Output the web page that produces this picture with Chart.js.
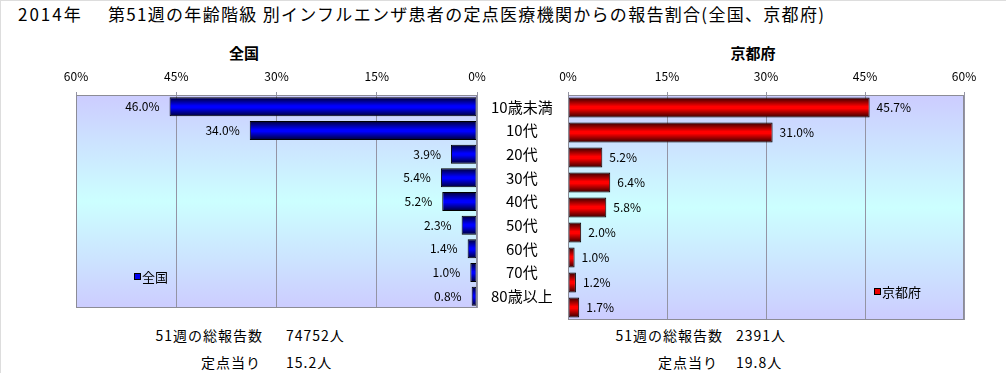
<!DOCTYPE html>
<html>
<head>
<meta charset="utf-8">
<script src="https://cdn.jsdelivr.net/npm/chart.js@4"></script>
<style>
  body { margin: 0; background: #fff; font-family: "Noto Sans CJK JP", sans-serif; }
  #wrap { position: relative; width: 1006px; height: 373px; border-top: 1px solid #ddd; border-left: 1px solid #ddd; box-sizing: border-box; overflow: hidden; }
  .t { position: absolute; white-space: nowrap; color: #000; }
  canvas { position: absolute; }
</style>
</head>
<body>
<div id="wrap">
  <div class="t" style="left:17px;top:3px;font-size:17px;line-height:20px;letter-spacing:2px">2014年</div>
  <div class="t" style="left:107px;top:3px;font-size:17px;line-height:20px;letter-spacing:1.3px">第51週の年齢階級 別インフルエンザ患者の定点医療機関からの報告割合(全国、京都府)</div>
  <div class="t" style="left:193px;width:100px;text-align:center;top:42px;font-size:15px;line-height:20px;font-weight:bold">全国</div>
  <div class="t" style="left:702px;width:100px;text-align:center;top:42px;font-size:15px;line-height:20px;font-weight:bold">京都府</div>

  <div class="t" style="right:743px;top:325px;font-size:14px;line-height:18px;letter-spacing:1px">51週の総報告数</div>
  <div class="t" id="natTotal" style="left:285px;top:325px;font-size:14px;line-height:18px;letter-spacing:1px"></div>
  <div class="t" style="right:745px;top:352px;font-size:14px;line-height:18px;letter-spacing:1px">定点当り</div>
  <div class="t" id="natPer" style="left:285px;top:352px;font-size:14px;line-height:18px;letter-spacing:1px"></div>

  <div class="t" style="right:283px;top:325px;font-size:14px;line-height:18px;letter-spacing:1px">51週の総報告数</div>
  <div class="t" id="kyoTotal" style="left:735px;top:325px;font-size:14px;line-height:18px;letter-spacing:1px"></div>
  <div class="t" style="right:288px;top:352px;font-size:14px;line-height:18px;letter-spacing:1px">定点当り</div>
  <div class="t" id="kyoPer" style="left:735px;top:352px;font-size:14px;line-height:18px;letter-spacing:1px"></div>

  <canvas id="national" width="567" height="300" style="left:0;top:30px"></canvas>
  <canvas id="kyoto" width="456" height="300" style="left:550px;top:30px"></canvas>
</div>
<script>
const ageGroups = ['10歳未満', '10代', '20代', '30代', '40代', '50代', '60代', '70代', '80歳以上'];
const nationalShare = [46.0, 34.0, 3.9, 5.4, 5.2, 2.3, 1.4, 1.0, 0.8];
const kyotoShare = [45.7, 31.0, 5.2, 6.4, 5.8, 2.0, 1.0, 1.2, 1.7];
const pctMax = 60;
const pctStep = 15;
// total reports, reports per sentinel site
const nationalTotals = [74752, 15.2];
const kyotoTotals = [2391, 19.8];

document.getElementById('natTotal').textContent = nationalTotals[0] + '人';
document.getElementById('natPer').textContent = nationalTotals[1].toFixed(1) + '人';
document.getElementById('kyoTotal').textContent = kyotoTotals[0] + '人';
document.getElementById('kyoPer').textContent = kyotoTotals[1].toFixed(1) + '人';

Chart.defaults.font.family = '"Noto Sans CJK JP", sans-serif';
Chart.defaults.color = '#000';

const BAR_PCT = 0.8;

// vertical shaded fill for each bar, worked out from the category scale
function barFill(ctx, dark, bright) {
  const chart = ctx.chart;
  const yScale = chart.scales.y;
  if (!chart.chartArea || !yScale || ctx.dataIndex === undefined) return bright;
  const c = yScale.getPixelForValue(ctx.dataIndex);
  const h = yScale.height / ageGroups.length * BAR_PCT;
  const g = chart.ctx.createLinearGradient(0, c - h / 2, 0, c + h / 2);
  g.addColorStop(0, dark);
  g.addColorStop(0.45, bright);
  g.addColorStop(0.55, bright);
  g.addColorStop(1, dark);
  return g;
}

const plotBg = {
  id: 'plotBg',
  beforeDraw(chart) {
    const a = chart.chartArea;
    const ctx = chart.ctx;
    const g = ctx.createLinearGradient(0, a.top, 0, a.bottom);
    g.addColorStop(0, '#ccccff');
    g.addColorStop(0.5, '#ccffff');
    g.addColorStop(1, '#ccccff');
    ctx.save();
    ctx.fillStyle = g;
    ctx.fillRect(a.left, a.top, a.right - a.left, a.bottom - a.top);
    ctx.restore();
  },
  afterDraw(chart) {
    const a = chart.chartArea;
    const ctx = chart.ctx;
    ctx.save();
    ctx.strokeStyle = '#8c8c96';
    ctx.lineWidth = 1;
    ctx.strokeRect(Math.round(a.left) + 0.5, Math.round(a.top) + 0.5, Math.round(a.right - a.left) - 1, Math.round(a.bottom - a.top) - 1);
    ctx.restore();
  }
};

const valueLabels = {
  id: 'valueLabels',
  afterDatasetsDraw(chart, args, opts) {
    const ctx = chart.ctx;
    const meta = chart.getDatasetMeta(0);
    const ds = chart.data.datasets[0];
    ctx.save();
    ctx.font = '12px "Noto Sans CJK JP", sans-serif';
    ctx.fillStyle = '#000';
    ctx.textBaseline = 'middle';
    ctx.textAlign = opts.side === 'left' ? 'right' : 'left';
    meta.data.forEach((bar, i) => {
      const x = opts.side === 'left' ? bar.x - 10 : bar.x + 7;
      ctx.fillText(ds.data[i].toFixed(1) + '%', x, bar.y);
    });
    ctx.restore();
  }
};

const boxLegend = {
  id: 'boxLegend',
  afterDraw(chart, args, opts) {
    const a = chart.chartArea;
    const ctx = chart.ctx;
    const ds = chart.data.datasets[0];
    const x = a.left + opts.dx;
    const y = a.bottom - opts.dy;
    ctx.save();
    ctx.fillStyle = opts.color;
    ctx.strokeStyle = '#000';
    ctx.fillRect(x, y - 3, 7, 7);
    ctx.strokeRect(x + 0.5, y - 2.5, 6, 6);
    ctx.fillStyle = '#000';
    ctx.font = '13px "Noto Sans CJK JP", sans-serif';
    ctx.textBaseline = 'middle';
    ctx.textAlign = 'left';
    ctx.fillText(ds.label, x + 8, y + 1);
    ctx.restore();
  }
};

function makeChart(id, label, values, side, dark, bright, legendPos, padding) {
  return new Chart(document.getElementById(id), {
    type: 'bar',
    data: {
      labels: ageGroups,
      datasets: [{
        label: label,
        data: values,
        backgroundColor: ctx => barFill(ctx, dark, bright),
        borderColor: '#000',
        borderWidth: 1,
        borderSkipped: false,
        barPercentage: BAR_PCT,
        categoryPercentage: 1
      }]
    },
    options: {
      indexAxis: 'y',
      responsive: false,
      animation: false,
      layout: { padding: padding },
      scales: {
        x: {
          type: 'linear',
          position: 'top',
          reverse: side === 'left',
          min: 0,
          max: pctMax,
          ticks: { stepSize: pctStep, padding: 8, font: { size: 12 }, callback: v => v + '%' },
          grid: { color: '#9494a4', tickLength: 3 },
          border: { display: false },
          afterFit: s => { s.height = 30; s.paddingLeft = 0; s.paddingRight = 0; }
        },
        y: side === 'left' ? {
          position: 'right',
          grid: { display: false, drawTicks: false },
          border: { display: false },
          ticks: { crossAlign: 'center', padding: 14, font: { size: 15 } },
          afterFit: s => { s.width = 91; }
        } : { display: false }
      },
      plugins: {
        legend: { display: false },
        tooltip: { enabled: false },
        valueLabels: { side: side },
        boxLegend: legendPos
      }
    },
    plugins: [plotBg, valueLabels, boxLegend]
  });
}

makeChart('national', '全国', nationalShare, 'left', '#000033', '#0000ff',
  { dx: 58, dy: 32, color: '#0000ee' }, { left: 75, top: 34, right: 0, bottom: 11 });
makeChart('kyoto', '京都府', kyotoShare, 'right', '#330000', '#ff0000',
  { dx: 306, dy: 29, color: '#ee0000' }, { left: 17, top: 34, right: 43, bottom: 11 });
</script>
</body>
</html>
